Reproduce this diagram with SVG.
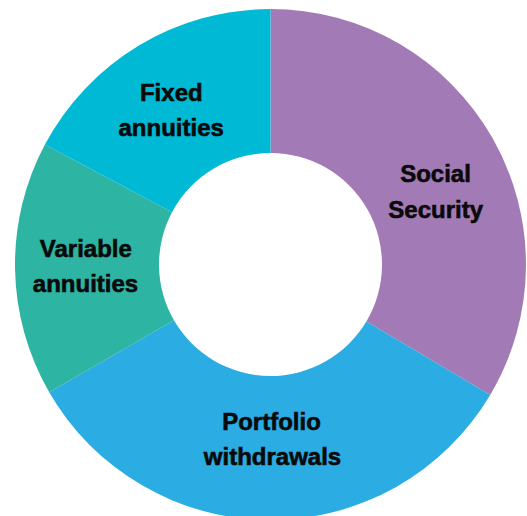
<svg xmlns="http://www.w3.org/2000/svg" width="527" height="516" viewBox="0 0 527 516">
<style>
.lbl{font-family:"Liberation Sans",Arial,sans-serif;font-weight:bold;font-size:24px;fill:#0a0a0a;stroke:#0a0a0a;stroke-width:0.6;text-anchor:middle}
</style>
<rect width="527" height="516" fill="#ffffff"/>
<g id="social-security">
<path d="M270.5,9 A255.5,255.5 0 0 1 490.2,394.9 L366.4,321.4 A111.5,111.5 0 0 0 270.5,153 Z" fill="#A27BB6"/>
<text class="lbl" x="435.5" y="181.7">Social</text>
<text class="lbl" x="435.7" y="218.3">Security</text>
</g>
<g id="portfolio-withdrawals">
<path d="M490.2,394.9 A255.5,255.5 0 0 1 49.23,392.25 L173.94,320.25 A111.5,111.5 0 0 0 366.4,321.4 Z" fill="#2BACE2"/>
<text class="lbl" x="271.5" y="430">Portfolio</text>
<text class="lbl" x="272.5" y="465">withdrawals</text>
</g>
<g id="variable-annuities">
<path d="M49.23,392.25 A255.5,255.5 0 0 1 44.91,144.55 L172.05,212.15 A111.5,111.5 0 0 0 173.94,320.25 Z" fill="#2EB4A2"/>
<text class="lbl" x="85.8" y="256.7">Variable</text>
<text class="lbl" x="85.5" y="291.7">annuities</text>
</g>
<g id="fixed-annuities">
<path d="M44.91,144.55 A255.5,255.5 0 0 1 270.5,9 L270.5,153 A111.5,111.5 0 0 0 172.05,212.15 Z" fill="#00B9D5"/>
<text class="lbl" x="171.3" y="100.7">Fixed</text>
<text class="lbl" x="171.2" y="135.7">annuities</text>
</g>
<g id="connectors"/>
</svg>
